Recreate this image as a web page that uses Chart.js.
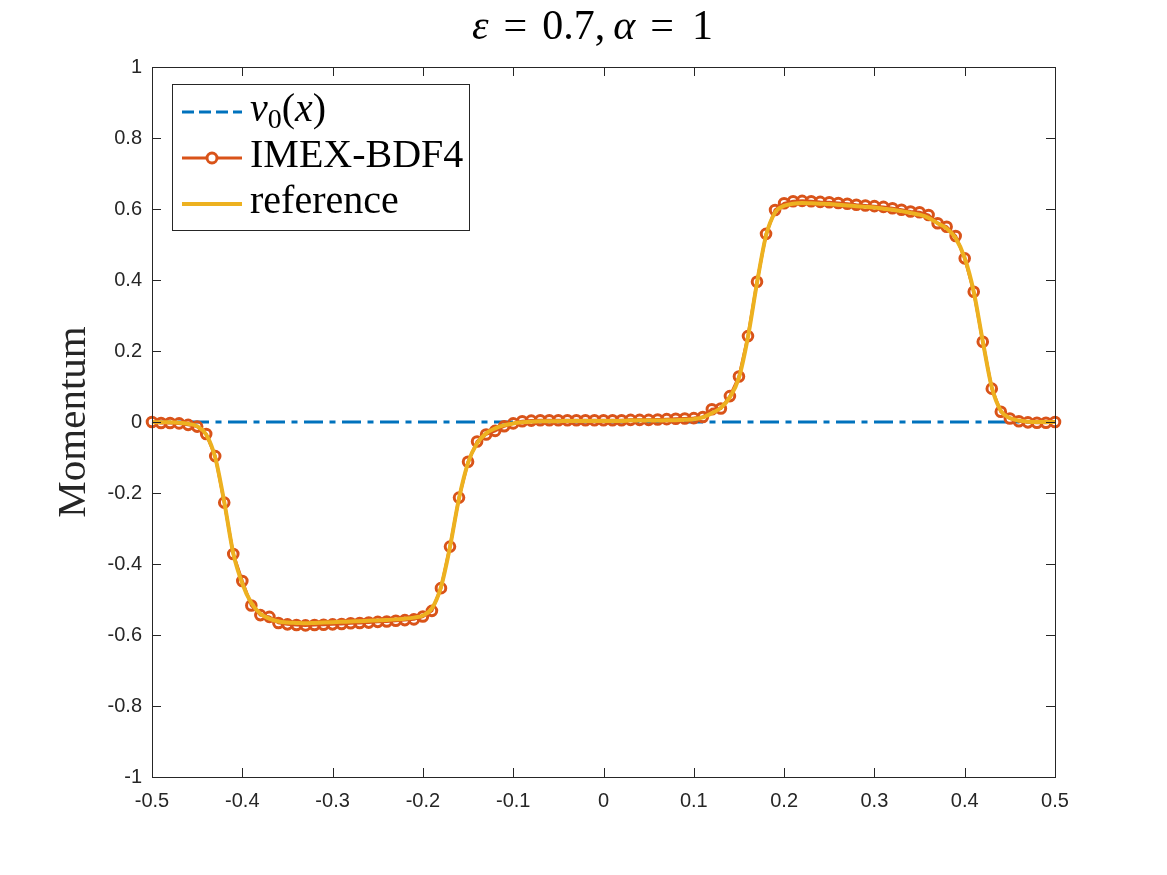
<!DOCTYPE html>
<html>
<head>
<meta charset="utf-8">
<script src="https://cdn.jsdelivr.net/npm/chart.js@4.4.1/dist/chart.umd.min.js"></script>
<style>
  html, body { margin: 0; padding: 0; background: #fff; }
  #wrap { width: 1167px; height: 875px; }
</style>
</head>
<body>
<div id="wrap"><canvas id="chart" width="1167" height="875"></canvas></div>
<script>
// momentum profile, eps = 0.7, alpha = 1

const xGrid = [
  -0.50, -0.49, -0.48, -0.47, -0.46, -0.45, -0.44, -0.43, -0.42, -0.41,
  -0.40, -0.39, -0.38, -0.37, -0.36, -0.35, -0.34, -0.33, -0.32, -0.31,
  -0.30, -0.29, -0.28, -0.27, -0.26, -0.25, -0.24, -0.23, -0.22, -0.21,
  -0.20, -0.19, -0.18, -0.17, -0.16, -0.15, -0.14, -0.13, -0.12, -0.11,
  -0.10, -0.09, -0.08, -0.07, -0.06, -0.05, -0.04, -0.03, -0.02, -0.01,
   0.00,  0.01,  0.02,  0.03,  0.04,  0.05,  0.06,  0.07,  0.08,  0.09,
   0.10,  0.11,  0.12,  0.13,  0.14,  0.15,  0.16,  0.17,  0.18,  0.19,
   0.20,  0.21,  0.22,  0.23,  0.24,  0.25,  0.26,  0.27,  0.28,  0.29,
   0.30,  0.31,  0.32,  0.33,  0.34,  0.35,  0.36,  0.37,  0.38,  0.39,
   0.40,  0.41,  0.42,  0.43,  0.44,  0.45,  0.46,  0.47,  0.48,  0.49,
   0.50
];

// initial momentum v0(x)
const v0X = [-0.5, 0.5];
const v0Values = [0, 0];

// IMEX-BDF4 solution (markers)
const imexValues = [
   0.000, -0.003, -0.003, -0.004, -0.008, -0.013, -0.034, -0.096, -0.227, -0.372,
  -0.448, -0.517, -0.544, -0.549, -0.566, -0.570, -0.572, -0.573, -0.572, -0.571,
  -0.570, -0.569, -0.567, -0.566, -0.565, -0.563, -0.562, -0.560, -0.558, -0.556,
  -0.548, -0.532, -0.468, -0.351, -0.213, -0.112, -0.055, -0.035, -0.025, -0.012,
  -0.004,  0.002,  0.004,  0.005,  0.005,  0.005,  0.005,  0.005,  0.005,  0.005,
   0.005,  0.005,  0.005,  0.006,  0.006,  0.006,  0.007,  0.008,  0.009,  0.010,
   0.011,  0.014,  0.036,  0.038,  0.073,  0.128,  0.242,  0.395,  0.530,  0.597,
   0.616,  0.622,  0.623,  0.622,  0.620,  0.619,  0.617,  0.615,  0.612,  0.610,
   0.608,  0.606,  0.602,  0.598,  0.593,  0.591,  0.583,  0.560,  0.550,  0.524,
   0.461,  0.367,  0.226,  0.094,  0.029,  0.010,  0.002, -0.001, -0.002, -0.002,
   0.000
];

// reference solution (solid line)
const referenceValues = [
   0.000, -0.001, -0.001, -0.002, -0.005, -0.012, -0.035, -0.100, -0.225, -0.370,
  -0.455, -0.510, -0.540, -0.554, -0.562, -0.565, -0.566, -0.567, -0.566, -0.565,
  -0.564, -0.563, -0.562, -0.561, -0.560, -0.559, -0.558, -0.556, -0.554, -0.551,
  -0.545, -0.525, -0.465, -0.352, -0.215, -0.115, -0.060, -0.032, -0.018, -0.009,
  -0.004, -0.001,  0.001,  0.002,  0.002,  0.002,  0.003,  0.003,  0.003,  0.003,
   0.003,  0.003,  0.003,  0.004,  0.004,  0.004,  0.004,  0.005,  0.005,  0.006,
   0.008,  0.013,  0.025,  0.040,  0.070,  0.125,  0.240,  0.392,  0.525,  0.590,
   0.609,  0.615,  0.617,  0.616,  0.615,  0.614,  0.612,  0.610,  0.608,  0.606,
   0.604,  0.601,  0.598,  0.594,  0.589,  0.584,  0.575,  0.560,  0.545,  0.518,
   0.462,  0.367,  0.228,  0.098,  0.032,  0.011,  0.004,  0.001,  0.000,  0.000,
   0.000
];

const xTickValues = [-0.5, -0.4, -0.3, -0.2, -0.1, 0, 0.1, 0.2, 0.3, 0.4, 0.5];
const xTickLabels = ['-0.5', '-0.4', '-0.3', '-0.2', '-0.1', '0', '0.1', '0.2', '0.3', '0.4', '0.5'];
const yTickValues = [-1, -0.8, -0.6, -0.4, -0.2, 0, 0.2, 0.4, 0.6, 0.8, 1];
const yTickLabels = ['-1', '-0.8', '-0.6', '-0.4', '-0.2', '0', '0.2', '0.4', '0.6', '0.8', '1'];

const AXIS_COLOR = '#262626';
const SERIF = '"Liberation Serif", "DejaVu Serif", serif';
const SANS = '"Liberation Sans", Arial, sans-serif';

const toPoints = (xs, ys) => xs.map((x, i) => ({ x: x, y: ys[i] }));

// rich text pieces: [text, italic, sizeScale, dy] or a number for a gap in px
function drawPieces(ctx, pieces, x, y, size) {
    let cx = x;
    pieces.forEach(p => {
        if (typeof p === 'number') { cx += p; return; }
        const [txt, italic, scale = 1, dy = 0] = p;
        ctx.font = `${italic ? 'italic ' : ''}${size * scale}px ${SERIF}`;
        ctx.fillText(txt, cx, y + dy);
        cx += ctx.measureText(txt).width;
    });
    return cx - x;
}

const titlePieces = [['ε', true], 15, ['=', false], 15, ['0.7,', false], 8, ['α', true], 15, ['=', false], 18, ['1', false]];

const legendItems = [
    { pieces: [['v', true], ['0', false, 0.7, 7], ['(', false], ['x', true], [')', false]], color: '#0072BD', width: 3, dash: [12, 5], marker: false },
    { pieces: [['IMEX-BDF4', false]], color: '#D95319', width: 3, dash: [], marker: true },
    { pieces: [['reference', false]], color: '#EDB120', width: 4, dash: [], marker: false }
];

const matlabAxes = {
    id: 'matlabAxes',
    afterDatasetsDraw(chart) {
        const { ctx, chartArea: a, scales: { x, y } } = chart;
        ctx.save();
        ctx.strokeStyle = AXIS_COLOR;
        ctx.lineWidth = 1;
        ctx.setLineDash([]);
        ctx.strokeRect(a.left + 0.5, a.top + 0.5, a.right - a.left, a.bottom - a.top);
        const tl = 9;
        ctx.beginPath();
        xTickValues.forEach(v => {
            const px = Math.round(x.getPixelForValue(v)) + 0.5;
            ctx.moveTo(px, a.bottom); ctx.lineTo(px, a.bottom - tl);
            ctx.moveTo(px, a.top); ctx.lineTo(px, a.top + tl);
        });
        yTickValues.forEach(v => {
            const py = Math.round(y.getPixelForValue(v)) + 0.5;
            ctx.moveTo(a.left, py); ctx.lineTo(a.left + tl, py);
            ctx.moveTo(a.right, py); ctx.lineTo(a.right - tl, py);
        });
        ctx.stroke();
        ctx.restore();
    },
    afterDraw(chart) {
        const { ctx, chartArea: a } = chart;
        ctx.save();
        ctx.fillStyle = '#000';
        ctx.textBaseline = 'alphabetic';
        ctx.textAlign = 'left';

        // title
        drawPieces(ctx, titlePieces, 472, 39, 42);

        // y axis label
        ctx.save();
        ctx.translate(85, (a.top + a.bottom) / 2);
        ctx.rotate(-Math.PI / 2);
        ctx.font = `41px ${SERIF}`;
        ctx.textAlign = 'center';
        ctx.fillStyle = AXIS_COLOR;
        ctx.fillText('Momentum', 0, 0);
        ctx.restore();

        // legend
        const box = { x: 172.5, y: 84.5, w: 297, h: 146 };
        ctx.fillStyle = '#fff';
        ctx.fillRect(box.x, box.y, box.w, box.h);
        ctx.strokeStyle = AXIS_COLOR;
        ctx.lineWidth = 1;
        ctx.strokeRect(box.x, box.y, box.w, box.h);
        const rowY = [112, 158, 204];
        legendItems.forEach((item, i) => {
            const ly = rowY[i];
            ctx.strokeStyle = item.color;
            ctx.lineWidth = item.width;
            ctx.setLineDash(item.dash);
            ctx.beginPath();
            ctx.moveTo(182, ly); ctx.lineTo(242, ly);
            ctx.stroke();
            ctx.setLineDash([]);
            if (item.marker) {
                ctx.lineWidth = 3;
                ctx.beginPath();
                ctx.arc(212, ly, 5, 0, Math.PI * 2);
                ctx.fillStyle = '#fff';
                ctx.fill();
                ctx.stroke();
            }
            ctx.fillStyle = '#000';
            drawPieces(ctx, item.pieces, 250, ly + 9, 40);
        });
        ctx.restore();
    }
};

const ctx = document.getElementById('chart').getContext('2d');
const chart = new Chart(ctx, {
    type: 'line',
    data: {
        datasets: [
            {
                label: 'reference',
                data: toPoints(xGrid, referenceValues),
                borderColor: '#EDB120',
                borderWidth: 4,
                pointRadius: 0,
                cubicInterpolationMode: 'monotone',
                fill: false,
                order: 0
            },
            {
                label: 'IMEX-BDF4',
                data: toPoints(xGrid, imexValues),
                borderColor: '#D95319',
                borderWidth: 3,
                pointStyle: 'circle',
                pointRadius: 4.8,
                pointBorderWidth: 3,
                pointBorderColor: '#D95319',
                pointBackgroundColor: 'rgba(0,0,0,0)',
                tension: 0,
                fill: false,
                clip: 8,
                order: 1
            },
            {
                label: 'v0(x)',
                data: toPoints(v0X, v0Values),
                borderColor: '#0072BD',
                borderWidth: 3,
                borderDash: [19, 6.5, 6, 6.5],
                pointRadius: 0,
                fill: false,
                order: 2
            }
        ]
    },
    options: {
        responsive: false,
        animation: false,
        devicePixelRatio: 1,
        layout: { padding: { top: 67, right: 112, bottom: 0, left: 0 }, autoPadding: false },
        plugins: {
            legend: { display: false },
            title: { display: false },
            tooltip: { enabled: false }
        },
        scales: {
            x: {
                type: 'linear',
                min: -0.5,
                max: 0.5,
                afterBuildTicks: s => { s.ticks = xTickValues.map(v => ({ value: v })); },
                afterFit: s => { s.height = 98; },
                grid: { display: false, drawTicks: false },
                border: { display: false },
                ticks: {
                    padding: 12,
                    color: AXIS_COLOR,
                    font: { family: SANS, size: 20 },
                    maxRotation: 0,
                    autoSkip: false,
                    callback: (value, index) => xTickLabels[index]
                }
            },
            y: {
                type: 'linear',
                min: -1,
                max: 1,
                afterBuildTicks: s => { s.ticks = yTickValues.map(v => ({ value: v })); },
                afterFit: s => { s.width = 152; },
                grid: { display: false, drawTicks: false },
                border: { display: false },
                ticks: {
                    padding: 10,
                    color: AXIS_COLOR,
                    font: { family: SANS, size: 20 },
                    autoSkip: false,
                    callback: (value, index) => yTickLabels[index]
                }
            }
        }
    },
    plugins: [matlabAxes]
});
</script>
</body>
</html>
